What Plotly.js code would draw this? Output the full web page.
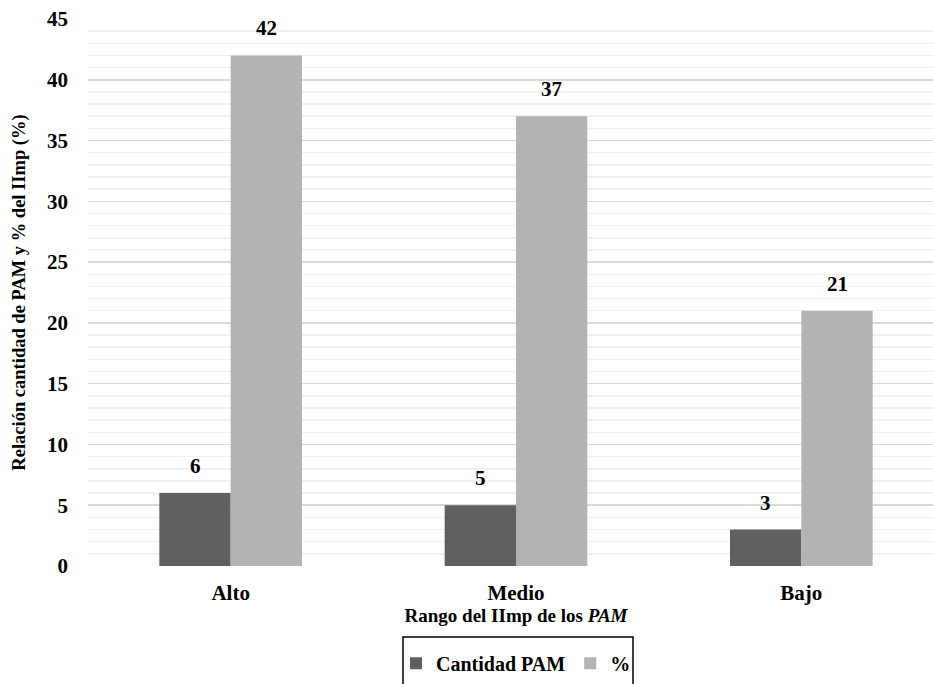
<!DOCTYPE html>
<html><head><meta charset="utf-8">
<script src="https://cdn.plot.ly/plotly-3.0.1.min.js"></script>
<style>html,body{margin:0;padding:0;overflow:hidden;background:#fff}</style>
</head><body>
<div id="chart" style="width:945px;height:700px"></div>
<script>
const categories = ["Alto", "Medio", "Bajo"];
const cantidadPAM = [6, 5, 3];
const porcentaje = [42, 37, 21];
const seriesNames = ["Cantidad PAM", "%"];
const colors = ["#606060", "#b3b3b3"];

const FONT = "Liberation Serif";
const seriesValues = [cantidadPAM, porcentaje];

const traces = seriesValues.map((vals, k) => ({
  type: "bar",
  name: "<b>" + seriesNames[k] + "</b>",
  x: categories,
  y: vals,
  marker: {color: colors[k], line: {width: 0}},
  hoverinfo: "skip"
}));

const bargap = 0.5;
const nSeries = seriesValues.length;
const barW = (1 - bargap) / nSeries;
const annotations = [];
seriesValues.forEach((vals, k) => {
  vals.forEach((v, i) => {
    annotations.push({
      x: i - (1 - bargap) / 2 + barW * (k + 0.5),
      y: v, xref: "x", yref: "y",
      text: "<b>" + v + "</b>",
      showarrow: false, yanchor: "bottom", yshift: 13,
      font: {family: FONT, size: 21, color: "#000"}
    });
  });
});

const layout = {
  width: 945, height: 700,
  margin: {l: 88, r: 1, t: 19, b: 134},
  paper_bgcolor: "#fff", plot_bgcolor: "#fff",
  barmode: "group", bargap: bargap, bargroupgap: 0,
  font: {family: FONT, color: "#000"},
  xaxis: {
    type: "category", range: [-0.5, 2.5],
    showgrid: false, showline: false, zeroline: false,
    ticks: "", ticklabelstandoff: 12,
    tickfont: {family: FONT, size: 21, color: "#000", weight: "bold"},
    title: {text: "<b>Rango del IImp de los <i>PAM</i></b>", font: {family: FONT, size: 19, color: "#000"}, standoff: 2}
  },
  yaxis: {
    range: [0, 45], dtick: 5, tick0: 0,
    showgrid: true, gridcolor: "#d9d9d9", gridwidth: 1.5,
    minor: {dtick: 1, showgrid: true, gridcolor: "#f0f0f0", gridwidth: 1.5},
    zeroline: false, showline: false, ticks: "", ticklabelstandoff: 19,
    tickfont: {family: FONT, size: 21, color: "#000", weight: "bold"},
    title: {text: "<b>Relación cantidad de PAM y % del IImp (%)</b>", font: {family: FONT, size: 18.5, color: "#000"}, standoff: 16}
  },
  showlegend: true,
  legend: {
    orientation: "h", x: 0.5, xanchor: "center", y: -0.142, yanchor: "top",
    font: {family: FONT, size: 20, color: "#000"},
    bgcolor: "rgba(0,0,0,0)", borderwidth: 0, itemclick: false, itemdoubleclick: false,
    itemwidth: 30
  },
  shapes: [{
    type: "rect", xref: "paper", yref: "paper",
    x0: (403 - 88) / 856, x1: (633 - 88) / 856,
    y0: -(700 - 566 + 20) / 547, y1: -(637 - 566) / 547,
    line: {color: "#000", width: 1.5}, fillcolor: "rgba(0,0,0,0)"
  }],
  annotations: annotations
};

Plotly.newPlot("chart", traces, layout, {displayModeBar: false, staticPlot: true});
</script>
</body></html>
